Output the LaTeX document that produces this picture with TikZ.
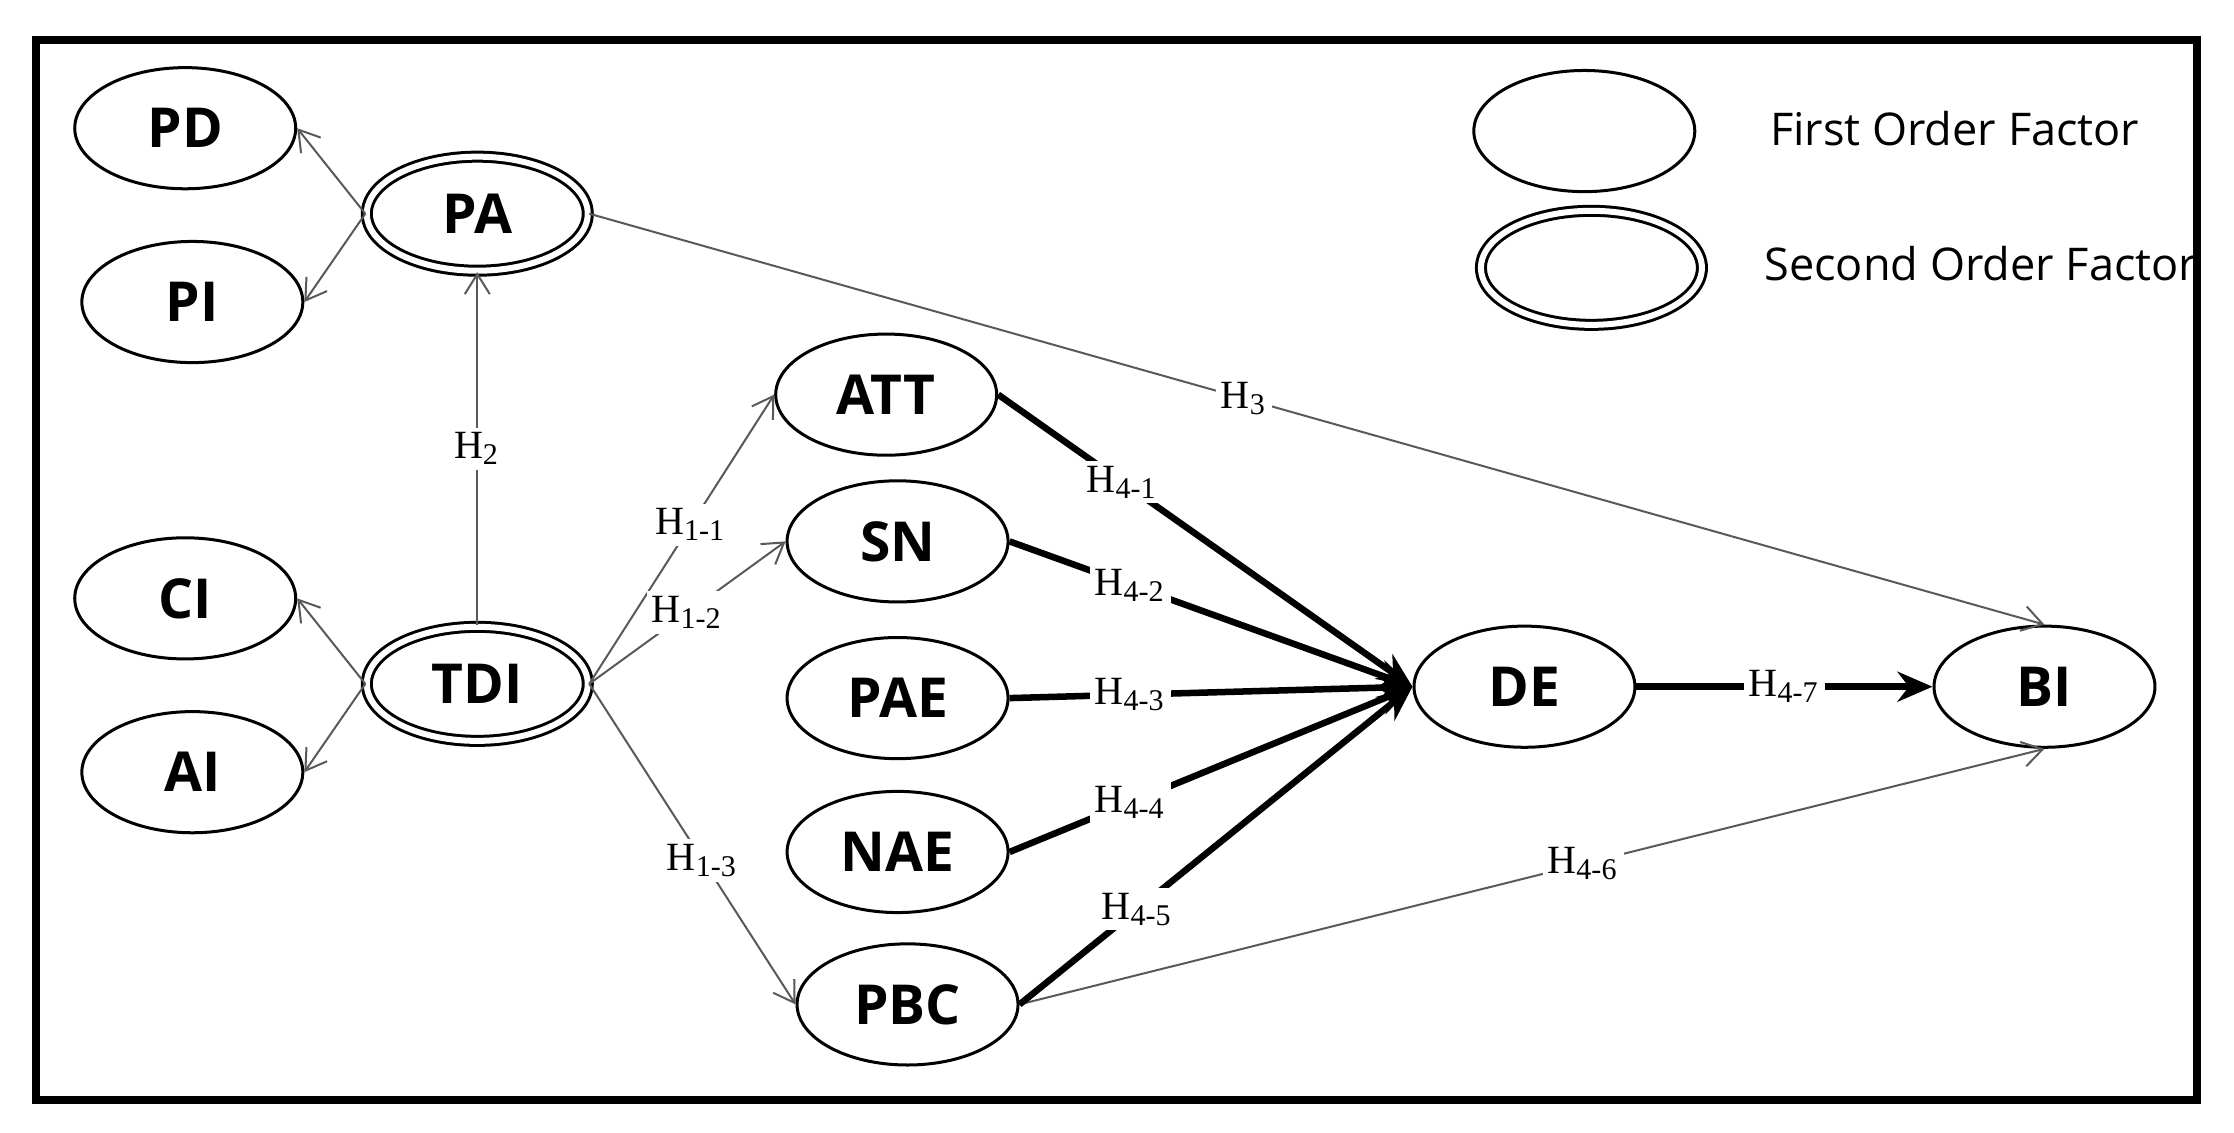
\documentclass[tikz,border=0pt]{standalone}
\usepackage{fontspec}
\setmainfont{Liberation Serif}
\newfontfamily\nf{Open Sans}
\usetikzlibrary{arrows.meta,shapes.geometric}
\begin{document}
\begin{tikzpicture}[x=0.01cm,y=-0.01cm,
 fo/.style={ellipse,draw,line width=0.6pt,minimum width=1.55cm,minimum height=0.85cm,inner sep=0pt,font=\nf\bfseries\fontsize{11}{12}\selectfont},
 so/.style={fo,double,double distance=1.2pt,minimum width=1.55cm,minimum height=0.8cm},
 thin/.style={draw=gray!70!black,line width=0.4pt,-{Straight Barb[length=4pt,width=5pt]}},
 thick/.style={draw,line width=1.3pt,-{Stealth[length=7pt,width=6pt]}},
 lab/.style={fill=white,inner sep=1pt,font=\fontsize{8}{9}\selectfont}]
\useasboundingbox (0,0) rectangle (1568,795);
\draw[line width=1.6pt] (25,28) rectangle (1542,772);
\node[fo] (PD) at (130,90) {PD};
\node[fo] (PI) at (135,212) {PI};
\node[so] (PA) at (335,150) {PA};
\node[fo] (CI) at (130,420) {CI};
\node[fo] (AI) at (135,542) {AI};
\node[so] (TDI) at (335,480) {TDI};
\node[fo] (ATT) at (622,277) {ATT};
\node[fo] (SN) at (630,380) {SN};
\node[fo] (PAE) at (630,490) {PAE};
\node[fo] (NAE) at (630,598) {NAE};
\node[fo] (PBC) at (637,705) {PBC};
\node[fo] (DE) at (1070,482) {DE};
\node[fo] (BI) at (1435,482) {BI};
\node[fo] (L1) at (1112,92) {};
\node[so] (L2) at (1117,188) {};
\node[anchor=west,font=\nf\fontsize{9}{10}\selectfont] (T1) at (1230,90) {First Order Factor};
\node[anchor=west,font=\nf\fontsize{9}{10}\selectfont] (T2) at (1226,185) {Second Order Factor};
\draw[thin] (PA.west) -- (PD.east);
\draw[thin] (PA.west) -- (PI.east);
\draw[thin] (TDI.west) -- (CI.east);
\draw[thin] (TDI.west) -- (AI.east);
\draw[thin] (TDI.north) -- node[lab,pos=0.5]{H\textsubscript{2}} (PA.south);
\draw[thin] (TDI.east) -- node[lab,pos=0.55]{H\textsubscript{1-1}} (ATT.west);
\draw[thin] (TDI.east) -- node[lab,pos=0.5]{H\textsubscript{1-2}} (SN.west);
\draw[thin] (TDI.east) -- node[lab,pos=0.55]{H\textsubscript{1-3}} (PBC.west);
\draw[thin] (PA.east) -- node[lab,pos=0.45]{H\textsubscript{3}} (BI.north);
\draw[thin] (PBC.east) -- node[lab,pos=0.55]{H\textsubscript{4-6}} (BI.south);
\coordinate (dw) at (DE.west);
\draw[thick] (ATT.east) -- node[lab,pos=0.3]{H\textsubscript{4-1}} (dw);
\draw[thick] (SN.east) -- node[lab,pos=0.3]{H\textsubscript{4-2}} (dw);
\draw[thick] (PAE.east) -- node[lab,pos=0.3]{H\textsubscript{4-3}} (dw);
\draw[thick] (NAE.east) -- node[lab,pos=0.3]{H\textsubscript{4-4}} (dw);
\draw[thick] (PBC.east) -- node[lab,pos=0.3]{H\textsubscript{4-5}} (dw);
\draw[thick] (DE.east) -- node[lab,pos=0.5]{H\textsubscript{4-7}} (BI.west);
\end{tikzpicture}
\end{document}
